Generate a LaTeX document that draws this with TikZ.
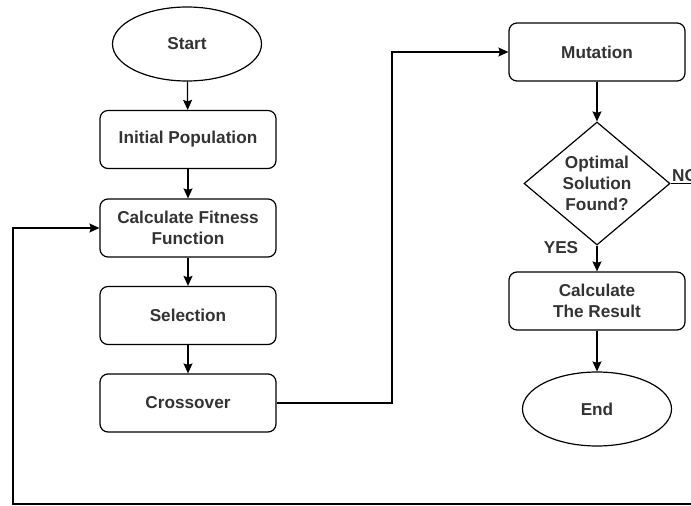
\documentclass[tikz,border=0pt]{standalone}
\usepackage{fontspec}
\setmainfont{Liberation Sans}
\usetikzlibrary{arrows.meta,shapes.geometric}
\definecolor{txt}{HTML}{333333}
\begin{document}
\begin{tikzpicture}[x=1pt,y=-1pt,
  every node/.style={font=\fontsize{17.2}{20.8}\selectfont\bfseries, text=txt, align=center, inner sep=0pt},
  stepbox/.style={draw=black, line width=1.2pt, rounded corners=8pt, minimum width=176pt, minimum height=58pt},
  term/.style={draw=black, line width=1.2pt, ellipse, minimum width=149pt, minimum height=74pt},
  decision/.style={draw=black, line width=1.2pt, diamond, minimum width=146pt, minimum height=117pt},
  flow/.style={draw=black, line width=1.2pt, -{Stealth[length=10pt,width=9pt,inset=1.5pt]}},
  link/.style={draw=black, line width=1.2pt}]
\useasboundingbox (0,0) rectangle (691,506);
\clip (0,0) rectangle (691,506);

% left column
\node[term] (start) at (187,44) {Start};
\node[stepbox] (init) at (188,139.5) {Initial Population};
\node[stepbox] (fit) at (188,228) {Calculate Fitness\\Function};
\node[stepbox] (sel) at (188,315.5) {Selection};
\node[stepbox] (cross) at (188,403) {Crossover};

% right column
\node[stepbox] (mut) at (597,52) {Mutation};
\node[decision] (opt) at (597,183.5) {Optimal\\Solution\\Found?};
\node[stepbox] (res) at (597,301) {Calculate\\The Result};
\node[term] (end) at (597,409) {End};

% labels of the decision
\node (yes) at (561,248) {YES};
\node[anchor=south west] (no) at (672,182) {NO};

% route points of the connectors
\coordinate (c1) at (392,403);
\coordinate (c2) at (392,52);
\coordinate (r1) at (740,183.5);
\coordinate (r2) at (740,504);
\coordinate (l1) at (13,504);
\coordinate (l2) at (13,228);

\draw[flow] (start) -- (init);
\draw[flow] (init) -- (fit);
\draw[flow] (fit) -- (sel);
\draw[flow] (sel) -- (cross);
\draw[flow] (cross.east) -- (c1) -- (c2) -- (mut.west);
\draw[flow] (mut) -- (opt);
\draw[flow] (opt) -- (res);
\draw[flow] (res) -- (end);
\draw[flow] (opt.east) -- (r1) -- (r2) -- (l1) -- (l2) -- (fit.west);
\end{tikzpicture}
\end{document}
